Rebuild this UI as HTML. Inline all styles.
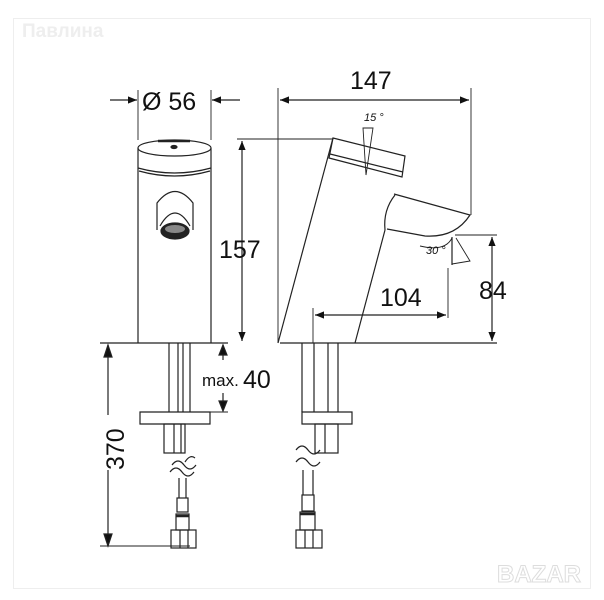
<!DOCTYPE html>
<html><head><style>
html,body{margin:0;padding:0;background:#fff;}
svg{display:block;}
text{font-family:"Liberation Sans",sans-serif;fill:#111;}
</style></head><body>
<svg width="604" height="600" viewBox="0 0 604 600" xmlns="http://www.w3.org/2000/svg">
<defs>
<marker id="a" viewBox="0 0 10 10" refX="10" refY="5" markerWidth="9" markerHeight="9" orient="auto-start-reverse" markerUnits="userSpaceOnUse"><path d="M0,1 L10,5 L0,9 z" fill="#111"/></marker>
</defs>
<rect x="13.5" y="18.5" width="577" height="570" fill="none" stroke="#eee" stroke-width="1"/>
<text x="22" y="37" font-size="19" font-weight="bold" style="fill:#eee">Павлина</text>
<text x="497" y="582" font-size="24" font-weight="bold" style="fill:none;stroke:#ddd;stroke-width:1">BAZAR</text>
<g fill="none" stroke="#222" stroke-width="1.2">
<!-- front body -->
<line x1="138" y1="148" x2="138" y2="343"/>
<line x1="211" y1="148" x2="211" y2="343"/>
<ellipse cx="174.5" cy="148" rx="36.5" ry="8"/>
<line x1="158" y1="141" x2="190" y2="141" stroke-width="2.5"/>
<ellipse cx="174" cy="147" rx="3" ry="1.5" fill="#222"/>
<path d="M138,168 Q174.5,178 211,168"/>
<path d="M139,171 Q174.5,181 210,171"/>
<path d="M157,230 L157,203 Q175,180 193,203 L193,230"/>
<path d="M160,226 Q175,200 190,226"/>
<ellipse cx="175" cy="231" rx="14" ry="8" fill="#222"/>
<ellipse cx="175" cy="229" rx="10" ry="4" fill="#888" stroke="none"/>
<!-- side body -->
<line x1="278" y1="343" x2="333" y2="138"/>
<line x1="355" y1="343" x2="385" y2="230"/>
<path d="M333,138 L405,156 L402,177 L329,158 Z"/>
<line x1="330" y1="154" x2="403" y2="172"/>
<path d="M395,195 Q383,210 385,230"/>
<path d="M394,194 L470,215 Q455,238 425,236 L387,229"/>
<!-- 15 deg -->
<path d="M363,128 L373,128 L366,175 Z" stroke-width="0.9"/>
<!-- 30 deg -->
<path d="M452,238 Q445,252 420,246" stroke-width="0.9"/>
<line x1="452" y1="237" x2="452" y2="265"/>
<path d="M456,238 L470,261 L452,264" stroke-width="0.9"/>
<!-- base lines -->
<line x1="100" y1="343" x2="228" y2="343"/>
<line x1="280" y1="343" x2="497" y2="343"/>
<!-- dims -->
<line x1="138" y1="90" x2="138" y2="140" stroke-width="0.9"/>
<line x1="211" y1="90" x2="211" y2="140" stroke-width="0.9"/>
<line x1="110" y1="100" x2="137" y2="100" marker-end="url(#a)"/>
<line x1="240" y1="100" x2="212" y2="100" marker-end="url(#a)"/>
<line x1="237" y1="139" x2="333" y2="139" stroke-width="0.9"/>
<line x1="242" y1="141" x2="242" y2="341" marker-start="url(#a)" marker-end="url(#a)"/>
<line x1="278" y1="88" x2="278" y2="343" stroke-width="0.9"/>
<line x1="471" y1="88" x2="471" y2="215" stroke-width="0.9"/>
<line x1="280" y1="100" x2="469" y2="100" marker-start="url(#a)" marker-end="url(#a)"/>
<line x1="455" y1="235" x2="497" y2="235" stroke-width="0.9"/>
<line x1="492" y1="237" x2="492" y2="341" marker-start="url(#a)" marker-end="url(#a)"/>
<line x1="313" y1="308" x2="313" y2="343" stroke-width="0.9"/>
<line x1="448" y1="268" x2="448" y2="318" stroke-width="0.9"/>
<line x1="315" y1="315" x2="446" y2="315" marker-start="url(#a)" marker-end="url(#a)"/>
<line x1="108" y1="345" x2="108" y2="415"/>
<line x1="108" y1="470" x2="108" y2="546"/>
<path d="M108,345 l-4,12 h8 z M108,546 l-4,-12 h8 z" fill="#111"/>
<line x1="100" y1="546" x2="190" y2="546" stroke-width="0.9"/>
<line x1="223" y1="345" x2="223" y2="360"/>
<line x1="223" y1="393" x2="223" y2="410"/>
<path d="M223,345 l-4,10 h8 z M223,411 l-4,-10 h8 z" fill="#111"/>
<line x1="210" y1="412" x2="228" y2="412" stroke-width="0.9"/>
<!-- left lower -->
<line x1="169" y1="343" x2="169" y2="412"/><line x1="178" y1="343" x2="178" y2="412"/>
<line x1="183" y1="343" x2="183" y2="412"/><line x1="190" y1="343" x2="190" y2="412"/>
<path d="M140,412 H210 V424 H140 Z"/>
<rect x="164" y="424" width="21" height="29"/><line x1="174" y1="424" x2="174" y2="453"/><line x1="181" y1="424" x2="181" y2="453"/>
<path d="M185,462 q5,-8 10,-4 M172,465 q6,-8 12,0 q6,8 12,0 M170,472 q6,-8 12,0 q6,8 12,0"/>
<line x1="179" y1="478" x2="179" y2="498"/><line x1="186" y1="478" x2="186" y2="498"/>
<rect x="177" y="498" width="11" height="14"/><rect x="176" y="514" width="13" height="16"/>
<line x1="176" y1="516" x2="189" y2="516" stroke-width="2.5"/>
<rect x="171" y="530" width="25" height="18"/><line x1="180" y1="530" x2="180" y2="548"/><line x1="188" y1="530" x2="188" y2="548"/>
<!-- right lower -->
<line x1="302" y1="343" x2="302" y2="412"/><line x1="314" y1="343" x2="314" y2="412"/>
<line x1="328" y1="343" x2="328" y2="412"/><line x1="338" y1="343" x2="338" y2="412"/>
<path d="M302,412 H352 V424 H302 Z"/>
<rect x="315" y="424" width="23" height="29"/><line x1="325" y1="424" x2="325" y2="453"/>
<path d="M296,450 q6,-8 12,0 q6,8 12,0 M296,462 q6,-8 12,0 q6,8 12,0"/>
<line x1="303" y1="470" x2="303" y2="495"/><line x1="313" y1="470" x2="313" y2="495"/>
<rect x="302" y="495" width="12" height="16"/><rect x="300" y="512" width="15" height="18"/>
<line x1="300" y1="514" x2="315" y2="514" stroke-width="2.5"/>
<rect x="296" y="530" width="26" height="18"/><line x1="305" y1="530" x2="305" y2="548"/><line x1="313" y1="530" x2="313" y2="548"/>
</g>
<text x="142" y="110" font-size="25">Ø 56</text>
<text x="350" y="89" font-size="25">147</text>
<text x="219" y="258" font-size="25">157</text>
<text x="380" y="306" font-size="25">104</text>
<text x="479" y="299" font-size="25">84</text>
<text x="202" y="386" font-size="17">max.</text>
<text x="243" y="388" font-size="25">40</text>
<text x="124" y="470" font-size="25" transform="rotate(-90 124 470)">370</text>
<text x="364" y="121" font-size="11" font-style="italic">15 °</text>
<text x="426" y="254" font-size="11" font-style="italic">30 °</text>
</svg>
</body></html>
